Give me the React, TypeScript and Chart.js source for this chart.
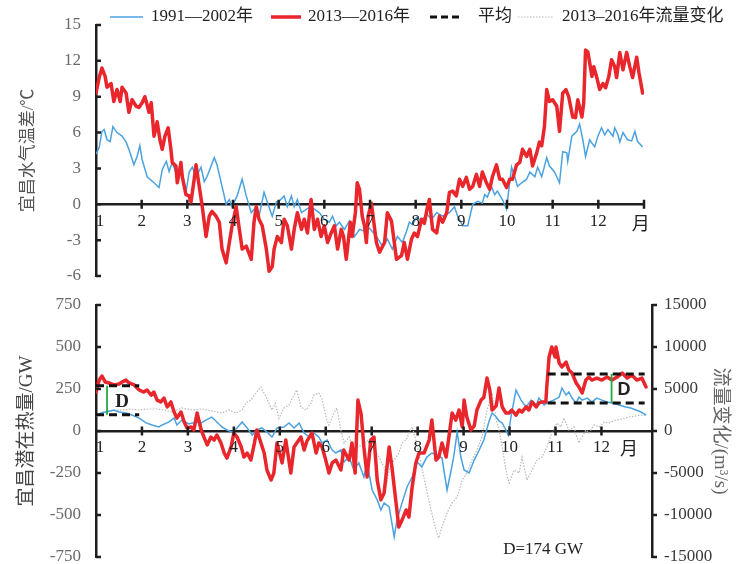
import { useEffect, useRef } from "react";
import { Chart, registerables } from "chart.js";

Chart.register(...registerables);

// ---------- data (x = month of year, fractional) ----------
type Pt = [number, number];

const monthLabels = ["1", "2", "3", "4", "5", "6", "7", "8", "9", "10", "11", "12"];
const legendLabels = ["1991—2002年", "2013—2016年", "平均", "2013–2016年流量变化"];

// 宜昌水气温差 (°C), 1991—2002
const tempDiff9102: Pt[] = [
  [1.0, 4.2], [1.07, 4.75], [1.13, 6.1], [1.18, 6.25], [1.24, 5.4], [1.31, 5.25], [1.37, 6.5], [1.46, 6.0],
  [1.57, 5.7], [1.66, 5.2], [1.72, 4.6], [1.83, 3.3], [1.9, 4.0], [1.96, 4.9], [2.01, 3.75], [2.12, 2.3],
  [2.27, 1.8], [2.38, 1.4], [2.45, 2.9], [2.54, 3.6], [2.6, 2.75], [2.67, 3.5], [2.78, 2.3], [2.86, 2.7],
  [2.97, 1.0], [3.04, 2.7], [3.11, 3.1], [3.19, 2.25], [3.3, 3.1], [3.37, 1.9], [3.43, 2.3], [3.59, 3.9],
  [3.65, 3.3], [3.76, 1.5], [3.85, 0.0], [3.92, 0.4], [3.98, -0.2], [4.09, 0.7], [4.2, 2.1], [4.29, 0.7],
  [4.4, -0.7], [4.51, -0.2], [4.57, -1.0], [4.68, 1.0], [4.79, -0.25], [4.86, -1.0], [4.95, 0.2], [5.01, 0.25],
  [5.12, 0.7], [5.19, -0.2], [5.28, 0.7], [5.34, -0.2], [5.41, 0.4], [5.5, -0.7], [5.61, -0.4], [5.71, -0.2],
  [5.78, -0.4], [5.89, -0.7], [6.0, -1.25], [6.11, -1.5], [6.18, -1.0], [6.26, -1.8], [6.33, -1.5], [6.44, -2.1],
  [6.55, -1.4], [6.66, -2.7], [6.77, -2.1], [6.88, -2.25], [6.99, -2.0], [7.14, -2.7], [7.27, -3.5], [7.38, -2.9],
  [7.49, -3.75], [7.6, -2.7], [7.71, -3.2], [7.8, -2.25], [7.86, -1.5], [7.93, -1.7], [8.02, -1.1], [8.13, -1.4],
  [8.24, -0.8], [8.35, -1.25], [8.46, -0.7], [8.59, -1.0], [8.74, -0.7], [8.85, -0.2], [8.92, -1.0], [9.03, -1.8],
  [9.14, -1.8], [9.25, 0.0], [9.36, 0.25], [9.46, 0.1], [9.51, 0.8], [9.57, 0.6], [9.66, 1.5], [9.73, 0.8],
  [9.79, 1.1], [9.9, 0.4], [9.99, -0.4], [10.04, 1.25], [10.1, 3.1], [10.17, 2.3], [10.23, 1.5], [10.32, 1.8],
  [10.43, 2.1], [10.5, 2.7], [10.61, 2.3], [10.67, 3.1], [10.76, 2.3], [10.87, 3.9], [10.93, 3.2], [11.04, 2.7],
  [11.15, 1.8], [11.22, 4.4], [11.31, 4.3], [11.33, 3.6], [11.42, 5.7], [11.53, 6.1], [11.59, 6.7], [11.66, 5.4],
  [11.72, 4.0], [11.81, 5.4], [11.92, 4.8], [11.99, 5.7], [12.07, 6.4], [12.14, 5.8], [12.21, 6.25], [12.32, 5.7],
  [12.36, 6.4], [12.43, 5.8], [12.47, 5.2], [12.54, 6.0], [12.64, 5.4], [12.73, 5.3], [12.8, 6.1], [12.86, 5.25],
  [12.97, 4.8],
];

// 宜昌水气温差 (°C), 2013—2016
const tempDiff1316: Pt[] = [
  [1.0, 9.3], [1.07, 10.6], [1.13, 11.4], [1.2, 10.7], [1.24, 9.8], [1.33, 10.1], [1.39, 8.6], [1.46, 9.6],
  [1.53, 8.6], [1.57, 9.8], [1.66, 9.3], [1.72, 7.7], [1.79, 8.75], [1.88, 8.2], [1.94, 8.1], [2.01, 8.5],
  [2.07, 9.0], [2.12, 8.3], [2.16, 7.7], [2.21, 8.5], [2.27, 5.7], [2.32, 6.5], [2.34, 6.9], [2.4, 5.4],
  [2.45, 4.6], [2.51, 5.7], [2.58, 6.4], [2.64, 4.6], [2.67, 3.5], [2.75, 3.2], [2.78, 1.8], [2.86, 3.5],
  [2.89, 2.3], [2.97, 0.8], [3.04, 0.7], [3.08, 0.2], [3.15, 2.1], [3.19, 3.3], [3.26, 1.5], [3.32, 0.0],
  [3.41, -2.7], [3.48, -1.0], [3.54, -0.6], [3.63, -1.0], [3.7, -1.5], [3.76, -3.75], [3.85, -4.9], [3.92, -3.2],
  [3.98, -1.8], [4.07, -0.2], [4.14, -2.1], [4.2, -3.75], [4.29, -3.5], [4.4, -4.6], [4.46, -1.5], [4.51, -0.2],
  [4.57, -1.25], [4.64, -1.8], [4.73, -3.75], [4.79, -5.6], [4.86, -5.2], [4.9, -3.75], [4.97, -2.7], [5.06, -3.2],
  [5.12, -1.25], [5.19, -1.8], [5.28, -3.75], [5.34, -2.1], [5.41, -0.7], [5.5, -2.1], [5.56, -1.25], [5.63, -2.4],
  [5.71, 0.4], [5.78, -2.1], [5.85, -1.25], [5.93, -2.7], [6.0, -1.8], [6.07, -3.2], [6.15, -2.4], [6.22, -1.8],
  [6.29, -3.75], [6.37, -2.1], [6.42, -2.7], [6.48, -4.6], [6.57, -1.5], [6.61, -2.7], [6.68, -0.7], [6.72, 1.8],
  [6.77, 1.25], [6.83, -1.0], [6.88, -1.8], [6.92, -3.2], [6.96, -1.0], [7.03, 0.1], [7.14, -3.2], [7.21, -4.0],
  [7.32, -3.2], [7.38, -0.7], [7.47, -1.4], [7.58, -4.6], [7.69, -4.3], [7.75, -3.2], [7.82, -4.6], [7.91, -2.9],
  [7.97, -2.4], [8.04, -2.7], [8.13, -1.25], [8.19, -1.6], [8.26, -0.2], [8.3, 0.4], [8.37, -2.1], [8.46, -2.4],
  [8.52, -1.0], [8.59, -1.5], [8.68, -0.7], [8.74, 1.0], [8.81, 1.1], [8.89, 0.7], [8.96, 2.1], [9.03, 1.5],
  [9.11, 2.25], [9.18, 1.25], [9.25, 1.5], [9.33, 2.5], [9.4, 1.5], [9.46, 2.7], [9.55, 1.8], [9.62, 1.25],
  [9.68, 2.3], [9.77, 3.3], [9.84, 2.1], [9.9, 2.1], [9.99, 1.4], [10.06, 2.1], [10.12, 2.1], [10.21, 3.3],
  [10.28, 3.5], [10.34, 4.6], [10.43, 4.0], [10.5, 4.6], [10.56, 3.2], [10.65, 4.3], [10.71, 5.2], [10.76, 4.9],
  [10.82, 6.5], [10.87, 9.6], [10.93, 8.6], [11.0, 8.75], [11.09, 8.2], [11.15, 6.1], [11.22, 9.3], [11.29, 9.6],
  [11.35, 9.0], [11.44, 7.3], [11.5, 7.25], [11.55, 8.75], [11.64, 7.3], [11.68, 8.5], [11.72, 12.9], [11.77, 12.75],
  [11.86, 10.7], [11.9, 11.5], [11.96, 10.7], [12.03, 9.6], [12.1, 10.1], [12.16, 9.75], [12.23, 10.7], [12.29, 12.1],
  [12.36, 11.5], [12.4, 10.6], [12.47, 12.7], [12.54, 11.25], [12.62, 12.7], [12.69, 11.5], [12.75, 10.6], [12.84, 12.3],
  [12.89, 11.0], [12.97, 9.3],
];

// 宜昌潜在热量 (GW), 1991—2002
const heat9102: Pt[] = [
  [1.0, 89], [1.11, 107], [1.22, 113], [1.39, 125], [1.5, 113], [1.65, 107], [1.78, 95], [1.94, 77],
  [2.09, 48], [2.22, 36], [2.37, 24], [2.44, 36], [2.59, 54], [2.7, 77], [2.76, 36], [2.87, 65],
  [3.02, 42], [3.18, 54], [3.29, 48], [3.39, 65], [3.52, 83], [3.63, 54], [3.74, 24], [3.85, 6],
  [3.96, -6], [4.07, 18], [4.18, 54], [4.29, 18], [4.4, -24], [4.5, 6], [4.61, 18], [4.72, -6],
  [4.83, -36], [4.94, 18], [5.09, 24], [5.2, 48], [5.31, 18], [5.42, 48], [5.53, -12], [5.64, -36],
  [5.74, -12], [5.85, -36], [5.92, -71], [6.03, -54], [6.14, -113], [6.22, -131], [6.33, -113], [6.4, -184],
  [6.51, -155], [6.61, -232], [6.72, -190], [6.83, -274], [6.9, -190], [7.01, -351], [7.12, -410], [7.2, -470],
  [7.27, -428], [7.38, -452], [7.49, -630], [7.55, -530], [7.66, -428], [7.77, -333], [7.88, -274], [7.99, -184],
  [8.09, -214], [8.2, -155], [8.31, -131], [8.42, -143], [8.53, -161], [8.64, -351], [8.73, -232], [8.79, -143],
  [8.86, -6], [8.94, -155], [9.01, -232], [9.12, -250], [9.23, -173], [9.34, -113], [9.44, -54], [9.55, 55],
  [9.62, 107], [9.71, 83], [9.77, 60], [9.84, 48], [9.92, 6], [9.97, -24], [10.03, 83], [10.14, 244],
  [10.25, 184], [10.36, 143], [10.47, 184], [10.58, 155], [10.64, 196], [10.75, 155], [10.86, 173], [10.97, 185],
  [11.08, 202], [11.14, 256], [11.23, 214], [11.29, 232], [11.36, 196], [11.45, 167], [11.51, 202], [11.58, 184],
  [11.69, 196], [11.79, 173], [11.9, 196], [12.01, 184], [12.12, 173], [12.23, 167], [12.38, 155], [12.53, 143],
  [12.64, 137], [12.75, 125], [12.86, 113], [12.97, 95],
];

// 宜昌潜在热量 (GW), 2013—2016
const heat1316: Pt[] = [
  [1.0, 232], [1.07, 303], [1.13, 327], [1.2, 292], [1.28, 286], [1.39, 274], [1.5, 280], [1.57, 292],
  [1.65, 303], [1.72, 286], [1.83, 274], [1.94, 244], [2.04, 232], [2.11, 244], [2.2, 214], [2.26, 232],
  [2.33, 184], [2.41, 173], [2.48, 196], [2.55, 143], [2.63, 173], [2.7, 113], [2.76, 77], [2.85, 113],
  [2.92, 54], [2.98, 18], [3.07, 24], [3.13, 6], [3.2, 107], [3.29, 6], [3.35, -36], [3.42, -83],
  [3.5, -36], [3.57, -54], [3.63, -24], [3.72, -71], [3.79, -131], [3.85, -161], [3.94, -95], [4.0, -12],
  [4.07, -36], [4.16, -95], [4.22, -155], [4.29, -131], [4.37, -173], [4.44, -83], [4.5, 6], [4.59, -71],
  [4.66, -131], [4.72, -232], [4.81, -292], [4.87, -250], [4.94, -71], [5.05, -190], [5.13, -54], [5.24, -250],
  [5.31, -95], [5.37, -71], [5.46, -36], [5.53, -113], [5.59, -60], [5.7, -12], [5.79, -131], [5.85, -71],
  [5.92, -95], [6.0, -173], [6.07, -250], [6.14, -190], [6.22, -173], [6.33, -232], [6.39, -113], [6.51, -173],
  [6.57, -71], [6.64, -250], [6.7, 184], [6.77, 100], [6.83, -95], [6.9, -274], [6.98, -54], [7.05, -36],
  [7.12, -292], [7.2, -410], [7.27, -369], [7.38, -95], [7.44, -214], [7.53, -428], [7.59, -571], [7.66, -530],
  [7.75, -470], [7.81, -512], [7.88, -333], [7.96, -190], [8.03, -131], [8.14, -131], [8.25, -54], [8.31, 65],
  [8.4, -173], [8.46, -155], [8.53, -71], [8.62, -155], [8.68, -36], [8.75, 107], [8.83, 65], [8.9, 125],
  [8.97, 24], [9.01, 184], [9.07, 83], [9.16, 6], [9.23, 30], [9.29, 125], [9.38, 184], [9.44, 200],
  [9.51, 315], [9.57, 244], [9.62, 125], [9.71, 150], [9.77, 256], [9.84, 143], [9.92, 107], [9.99, 107],
  [10.05, 125], [10.14, 95], [10.21, 125], [10.27, 113], [10.36, 143], [10.42, 125], [10.49, 173], [10.58, 143],
  [10.64, 167], [10.71, 173], [10.79, 173], [10.81, 262], [10.86, 440], [10.92, 500], [10.99, 440], [11.01, 500],
  [11.08, 405], [11.14, 381], [11.23, 410], [11.29, 363], [11.36, 345], [11.45, 286], [11.51, 262], [11.58, 226],
  [11.66, 303], [11.73, 321], [11.79, 303], [11.9, 315], [12.01, 303], [12.12, 321], [12.23, 303], [12.34, 321],
  [12.45, 345], [12.56, 315], [12.66, 333], [12.77, 303], [12.88, 315], [12.97, 262],
];

// 流量变化 (m³/s), 2013—2016
const flow1316: Pt[] = [
  [1.13, 2260], [1.35, 2400], [1.57, 2500], [1.76, 2600], [1.94, 2500], [2.11, 2620], [2.31, 2620], [2.48, 2500],
  [2.65, 2260], [2.87, 2740], [3.09, 2500], [3.31, 2620], [3.52, 2380], [3.74, 2140], [3.89, 2500], [4.05, 2140],
  [4.18, 2500], [4.26, 3330], [4.37, 3690], [4.48, 4520], [4.59, 5240], [4.7, 4050], [4.83, 2500], [4.9, 3300],
  [4.98, 1500], [5.09, 2740], [5.2, 3100], [5.31, 4280], [5.37, 4880], [5.46, 2860], [5.57, 2500], [5.68, 3330],
  [5.74, 4280], [5.85, 4520], [5.92, 3810], [6.01, 1550], [6.07, 710], [6.18, 2140], [6.24, 2740], [6.33, 120],
  [6.4, -1430], [6.51, -700], [6.61, -2260], [6.72, -1900], [6.83, -1430], [6.94, -1070], [7.05, -2260], [7.16, -3100],
  [7.27, -4280], [7.33, -6190], [7.38, -4640], [7.49, -3450], [7.59, -2620], [7.66, -1430], [7.75, -1070], [7.81, -240],
  [7.88, 500], [7.96, -1070], [8.07, -3810], [8.18, -6660], [8.29, -9400], [8.4, -11780], [8.46, -12730], [8.53, -11420],
  [8.64, -9760], [8.75, -8570], [8.86, -7850], [8.97, -5830], [9.07, -5000], [9.18, -3450], [9.29, -2260], [9.4, -710],
  [9.51, 2500], [9.62, 4520], [9.71, 1310], [9.77, 120], [9.84, -1900], [9.92, -4640], [9.99, -6190], [10.1, -4640],
  [10.21, -5000], [10.27, -3100], [10.38, -5830], [10.49, -4640], [10.6, -3450], [10.71, -3100], [10.81, -1900], [10.92, -240],
  [11.03, 950], [11.12, 480], [11.18, 1550], [11.29, 120], [11.4, 480], [11.51, -1430], [11.58, -710], [11.66, 120],
  [11.73, -240], [11.84, 710], [11.95, 480], [12.06, 1070], [12.16, 950], [12.32, 1310], [12.45, 1430], [12.6, 1670],
  [12.75, 1790], [12.88, 1900], [12.99, 1900],
];

// Period means (GW) over the winter spans, and where the D brackets stand
const meanSpanStart = [1.0, 10.83];
const meanSpanEnd = [1.94, 12.94];
const meanHist = [96, 166];
const meanRecent = [270, 340];
const dBracketX = [1.24, 12.22];

// ---------- styling ----------
const SERIF = "'Liberation Serif', 'Times New Roman', serif";
const CJK = "'Liberation Serif', 'Noto Sans CJK SC', serif";
const BLUE = "#4ba2df";
const RED = "#e8262c";
const AXIS = "#1e1e1e";
const GRAY_DOT = "#b9b9b9";
const GREEN = "#22aa44";

const toXY = (a: Pt[]) => a.map(([x, y]) => ({ x, y }));

function drawMonthAxis(chart: any, ctx: CanvasRenderingContext2D, lastTick: number, unitAt: [number, number]) {
  const xs = chart.scales.x;
  const ys = chart.scales.y;
  const y0 = ys.getPixelForValue(0);
  ctx.strokeStyle = AXIS;
  ctx.lineWidth = 2.5;
  ctx.beginPath();
  for (let m = 2; m <= lastTick; m++) {
    const px = xs.getPixelForValue(m);
    ctx.moveTo(px, y0 - 4.5);
    ctx.lineTo(px, y0 + 4.5);
  }
  ctx.stroke();
  ctx.fillStyle = "#222";
  ctx.font = `17px ${SERIF}`;
  ctx.textAlign = "center";
  ctx.textBaseline = "middle";
  monthLabels.forEach((lab, i) => {
    const px = xs.getPixelForValue(i + 1) + (i === 0 ? 4 : 0);
    ctx.fillText(lab, px, y0 + 17);
  });
  ctx.font = `18px ${CJK}`;
  ctx.fillText("月", xs.getPixelForValue(unitAt[0]), ys.getPixelForValue(unitAt[1]));
}

function drawYTicks(ctx: CanvasRenderingContext2D, scale: any, x: number, dir: number) {
  ctx.strokeStyle = AXIS;
  ctx.lineWidth = 2.5;
  ctx.beginPath();
  scale.ticks.forEach((t: any) => {
    const py = scale.getPixelForValue(t.value);
    ctx.moveTo(x, py);
    ctx.lineTo(x + dir * 5, py);
  });
  ctx.stroke();
}

const topDecor = {
  id: "topDecor",
  afterDraw(chart: any) {
    const ctx: CanvasRenderingContext2D = chart.ctx;
    ctx.save();
    drawYTicks(ctx, chart.scales.y, chart.chartArea.left, 1);
    drawMonthAxis(chart, ctx, 13, [12.93, -1.75]);

    // legend row
    const ly = 17;
    const swatches = [
      { x0: 110, x1: 143, tx: 151, color: BLUE, w: 1.5, dash: [] as number[] },
      { x0: 271, x1: 301, tx: 308, color: RED, w: 3.5, dash: [] as number[] },
      { x0: 430, x1: 462, tx: 478, color: "#111", w: 3, dash: [7, 4] },
      { x0: 518, x1: 553, tx: 562, color: GRAY_DOT, w: 1.2, dash: [1.5, 1.5] },
    ];
    swatches.forEach((s, i) => {
      ctx.strokeStyle = s.color;
      ctx.lineWidth = s.w;
      ctx.setLineDash(s.dash);
      ctx.beginPath();
      ctx.moveTo(s.x0, ly);
      ctx.lineTo(s.x1, ly);
      ctx.stroke();
      ctx.setLineDash([]);
      ctx.fillStyle = "#222";
      ctx.font = `17px ${CJK}`;
      ctx.textAlign = "left";
      ctx.textBaseline = "middle";
      ctx.fillText(legendLabels[i], s.tx, ly);
    });
    ctx.restore();
  },
};

const bottomDecor = {
  id: "bottomDecor",
  afterDraw(chart: any) {
    const ctx: CanvasRenderingContext2D = chart.ctx;
    const xs = chart.scales.x;
    const ys = chart.scales.y;
    ctx.save();
    drawYTicks(ctx, ys, chart.chartArea.left, 1);
    drawYTicks(ctx, chart.scales.y1, chart.chartArea.right, 1);
    drawMonthAxis(chart, ctx, 12, [12.6, -113]);

    ctx.fillStyle = "#222";
    ctx.textAlign = "center";
    ctx.textBaseline = "middle";
    ctx.font = `bold 19px ${SERIF}`;
    ctx.fillText("D", xs.getPixelForValue(1.57), ys.getPixelForValue(173));
    ctx.font = `bold 18px 'Liberation Sans', sans-serif`;
    ctx.fillText("D", xs.getPixelForValue(12.49), ys.getPixelForValue(244));
    const d = meanRecent[0] - meanHist[0];
    ctx.font = `17px ${SERIF}`;
    ctx.fillText(`D=${d} GW`, xs.getPixelForValue(10.73), ys.getPixelForValue(-708));
    ctx.restore();
  },
};

function meanLine(i: number, v: number, first: boolean) {
  return {
    label: first ? legendLabels[2] : "",
    data: [{ x: meanSpanStart[i], y: v }, { x: meanSpanEnd[i], y: v }],
    borderColor: "#111",
    borderWidth: 3,
    borderDash: [8, 5],
    pointRadius: 0,
    yAxisID: "y",
    order: 0,
  };
}

function bracket(i: number) {
  return {
    label: "D",
    data: [{ x: dBracketX[i], y: meanHist[i] }, { x: dBracketX[i], y: meanRecent[i] }],
    borderColor: GREEN,
    borderWidth: 1.8,
    pointRadius: 0,
    yAxisID: "y",
    order: 1,
  };
}

const axisFont = { family: SERIF, size: 17 };
const noGrid = { display: false };
const border = { display: true, color: AXIS, width: 2.5 };
const plainNumber = (v: any) => String(v);
// invisible tick marks used only to push the value labels away from the axis line
const labelGap = (len: number) => ({
  display: true,
  drawOnChartArea: false,
  drawTicks: true,
  tickLength: len,
  tickColor: "rgba(0,0,0,0)",
});

const monthScale = (max: number) => ({
  type: "linear",
  position: { y: 0 },
  min: 1,
  max,
  grid: noGrid,
  border,
  ticks: { display: false },
  afterFit: (s: any) => {
    s.height = 0;
  },
});

export default function App() {
  const topRef = useRef<HTMLCanvasElement>(null);
  const botRef = useRef<HTMLCanvasElement>(null);

  useEffect(() => {
    const top = new Chart(topRef.current as HTMLCanvasElement, {
      type: "line",
      data: {
        datasets: [
          {
            label: legendLabels[1],
            data: toXY(tempDiff1316),
            borderColor: RED,
            borderWidth: 3.5,
            pointRadius: 0,
            borderJoinStyle: "round",
            borderCapStyle: "round",
            order: 1,
          },
          {
            label: legendLabels[0],
            data: toXY(tempDiff9102),
            borderColor: BLUE,
            borderWidth: 1.5,
            pointRadius: 0,
            order: 2,
          },
        ],
      },
      options: {
        animation: false,
        responsive: false,
        devicePixelRatio: 1,
        layout: { padding: { left: 0, right: 95, top: 25, bottom: 14 } },
        plugins: { legend: { display: false }, tooltip: { enabled: false } },
        scales: {
          x: monthScale(13),
          y: {
            type: "linear",
            position: "left",
            min: -6,
            max: 15,
            grid: labelGap(15),
            border,
            ticks: { stepSize: 3, padding: 0, color: "#6a6a6a", font: axisFont, callback: plainNumber },
            title: {
              display: true,
              text: "宜昌水气温差/℃",
              color: "#555",
              font: { family: CJK, size: 17 },
              padding: { top: 18, bottom: 0 },
            },
            afterFit: (s: any) => {
              s.width = 96;
            },
          },
        },
      } as any,
      plugins: [topDecor],
    });

    const bottom = new Chart(botRef.current as HTMLCanvasElement, {
      type: "line",
      data: {
        datasets: [
          meanLine(0, meanRecent[0], true),
          meanLine(0, meanHist[0], false),
          meanLine(1, meanRecent[1], false),
          meanLine(1, meanHist[1], false),
          bracket(0),
          bracket(1),
          {
            label: legendLabels[1],
            data: toXY(heat1316),
            borderColor: RED,
            borderWidth: 3.5,
            pointRadius: 0,
            borderJoinStyle: "round",
            borderCapStyle: "round",
            yAxisID: "y",
            order: 2,
          },
          {
            label: legendLabels[0],
            data: toXY(heat9102),
            borderColor: BLUE,
            borderWidth: 1.5,
            pointRadius: 0,
            yAxisID: "y",
            order: 3,
          },
          {
            label: legendLabels[3],
            data: toXY(flow1316),
            borderColor: GRAY_DOT,
            borderWidth: 1.2,
            borderDash: [1.5, 1.5],
            pointRadius: 0,
            yAxisID: "y1",
            order: 4,
          },
        ],
      },
      options: {
        animation: false,
        responsive: false,
        devicePixelRatio: 1,
        layout: { padding: { left: 0, right: 0, top: 15, bottom: 33 } },
        plugins: { legend: { display: false }, tooltip: { enabled: false } },
        scales: {
          x: monthScale(13.1),
          y: {
            type: "linear",
            position: "left",
            min: -750,
            max: 750,
            grid: labelGap(15),
            border,
            ticks: { stepSize: 250, padding: 0, color: "#6a6a6a", font: axisFont, callback: plainNumber },
            title: {
              display: true,
              text: "宜昌潜在热量/GW",
              color: "#444",
              font: { family: CJK, size: 19 },
              padding: { top: 16, bottom: 0 },
            },
            afterFit: (s: any) => {
              s.width = 96;
            },
          },
          y1: {
            type: "linear",
            position: "right",
            min: -15000,
            max: 15000,
            grid: labelGap(12),
            border,
            ticks: { stepSize: 5000, padding: 0, color: "#3a3a3a", font: axisFont, callback: plainNumber },
            title: {
              display: true,
              text: "流量变化/(m³/s)",
              color: "#666",
              font: { family: CJK, size: 19 },
              padding: { top: 8, bottom: 0 },
            },
            afterFit: (s: any) => {
              s.width = 87;
            },
          },
        },
      } as any,
      plugins: [bottomDecor],
    });

    return () => {
      top.destroy();
      bottom.destroy();
    };
  }, []);

  return (
    <div
      style={{
        position: "absolute",
        left: 0,
        top: 0,
        width: 739,
        height: 564,
        overflow: "hidden",
        background: "#fff",
      }}
    >
      <canvas ref={topRef} width={739} height={290} style={{ position: "absolute", left: 0, top: 0 }} />
      <canvas ref={botRef} width={739} height={300} style={{ position: "absolute", left: 0, top: 290 }} />
    </div>
  );
}
